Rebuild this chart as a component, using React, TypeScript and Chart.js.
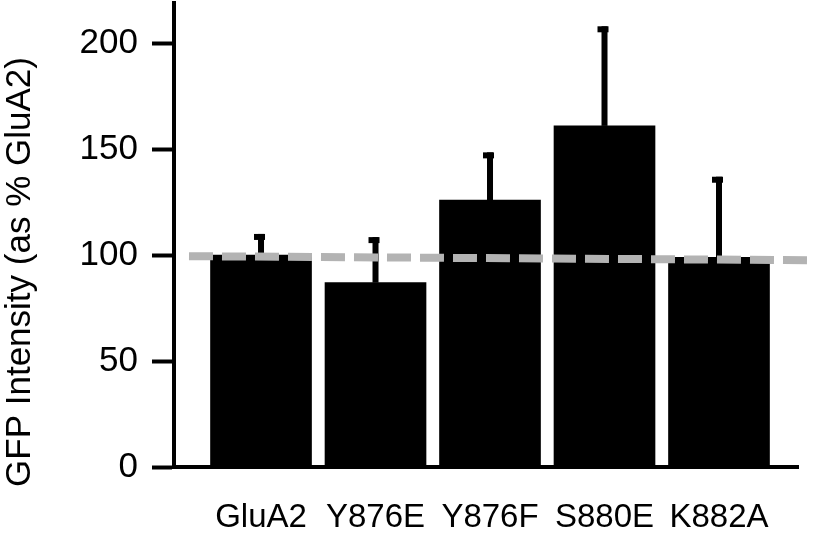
import React, { useEffect, useRef } from "react";
import { Chart, registerables } from "chart.js";

Chart.register(...registerables);

const categories = ["GluA2", "Y876E", "Y876F", "S880E", "K882A"];
const means = [100, 87, 126, 161, 99];
const errorTops = [110, 108.5, 148.5, 208, 137];
const refLine = [99.5, 97.6]; // dashed reference near 100% (left, right ends)
const yTicks = [0, 50, 100, 150, 200];
const yTitle = "GFP Intensity (as % GluA2)";

const FONT = "'Liberation Sans', Arial, Helvetica, sans-serif";

const overlayPlugin = {
  id: "overlay",
  afterDatasetsDraw(chart: any) {
    const { ctx, scales, chartArea } = chart;
    const xs = scales.x;
    const ys = scales.y;
    ctx.save();
    ctx.fillStyle = "#000";
    means.forEach((m, i) => {
      const cx = xs.getPixelForValue(i);
      const yTop = ys.getPixelForValue(errorTops[i]);
      const yBar = ys.getPixelForValue(m);
      ctx.fillRect(cx - 3, yTop, 6, yBar - yTop);
      ctx.fillRect(cx - 7, yTop, 11, 6);
    });
    ctx.strokeStyle = "#b3b3b3";
    ctx.lineWidth = 8;
    ctx.setLineDash([24, 9]);
    ctx.beginPath();
    ctx.moveTo(chartArea.left + 15, ys.getPixelForValue(refLine[0]));
    ctx.lineTo(chart.width, ys.getPixelForValue(refLine[1]));
    ctx.stroke();
    ctx.restore();
  },
  afterDraw(chart: any) {
    const { ctx } = chart;
    ctx.save();
    ctx.translate(20, 272);
    ctx.rotate(-Math.PI / 2);
    ctx.fillStyle = "#000";
    ctx.font = `35px ${FONT}`;
    ctx.textAlign = "center";
    ctx.textBaseline = "middle";
    ctx.fillText(yTitle, 0, 0);
    ctx.restore();
  },
};

export default function App() {
  const ref = useRef<HTMLCanvasElement>(null);
  useEffect(() => {
    if (!ref.current) return;
    const chart = new Chart(ref.current, {
      type: "bar",
      data: {
        datasets: [
          {
            data: means.map((v, i) => ({ x: i, y: v })),
            backgroundColor: "#000",
            borderWidth: 0,
            barThickness: 101,
          },
        ],
      },
      options: {
        animation: false,
        responsive: false,
        devicePixelRatio: 1,
        layout: { padding: { top: 3, right: 15, left: 0, bottom: 0 } },
        plugins: { legend: { display: false }, tooltip: { enabled: false } },
        scales: {
          x: {
            type: "linear",
            offset: false,
            bounds: "data",
            min: -0.76,
            max: 4.69,
            afterFit: (s: any) => {
              s.height = 73;
              s.paddingLeft = 0;
              s.paddingRight = 0;
            },
            afterBuildTicks: (s: any) => {
              s.ticks = categories.map((_, i) => ({ value: i }));
            },
            grid: { display: false, drawTicks: false },
            border: { display: true, color: "#000", width: 4 },
            ticks: {
              color: "#000",
              font: { family: FONT, size: 33 },
              padding: 31,
              autoSkip: false,
              maxRotation: 0,
              callback: (v: any) => categories[v as number] ?? "",
            },
          },
          y: {
            min: 0,
            max: 219,
            afterFit: (s: any) => {
              s.width = 174;
              s.paddingTop = 0;
              s.paddingBottom = 0;
            },
            afterBuildTicks: (s: any) => {
              s.ticks = yTicks.map((v) => ({ value: v }));
            },
            grid: {
              drawOnChartArea: false,
              drawTicks: true,
              tickLength: 22,
              tickWidth: 4,
              tickColor: "#000",
            },
            border: { display: true, color: "#000", width: 4 },
            ticks: {
              color: "#000",
              font: { family: FONT, size: 35 },
              padding: 14,
            },
            title: { display: false },
          },
        },
      },
      plugins: [overlayPlugin],
    });
    return () => chart.destroy();
  }, []);
  return (
    <div style={{ position: "absolute", left: 0, top: 0, width: 813, height: 540, background: "#fff" }}>
      <canvas ref={ref} width={813} height={540} />
    </div>
  );
}
